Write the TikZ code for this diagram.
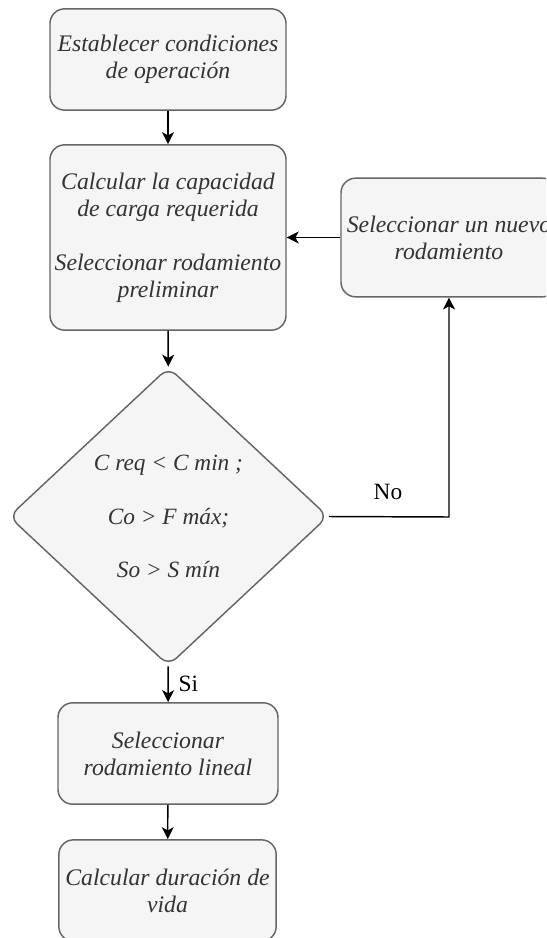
\documentclass[tikz,border=0pt]{standalone}
\usepackage{fontspec}
\setmainfont{Liberation Serif}
\usepackage{tikz}
\usetikzlibrary{arrows.meta,positioning,shapes.geometric}
\definecolor{boxfill}{RGB}{245,245,245}
\definecolor{boxline}{RGB}{102,102,102}
\definecolor{boxtext}{RGB}{51,51,51}

\begin{document}
\begin{tikzpicture}[x=0.75pt,y=-0.75pt,
    stepbox/.style={draw=boxline,fill=boxfill,line width=1.1pt,rounded corners=11pt,
      text=boxtext,align=center,inner sep=0pt,
      font=\fontsize{17.8}{20.3}\selectfont\itshape},
    decision/.style={diamond,draw=boxline,fill=boxfill,line width=1.1pt,rounded corners=8pt,
      text=boxtext,align=center,inner sep=0pt,
      font=\fontsize{17.5}{20.3}\selectfont\itshape},
    flow/.style={line width=1.1pt,-{Stealth[length=9pt,width=9pt,inset=2.5pt]}},
    tag/.style={font=\fontsize{17.5}{20}\selectfont}]
  \clip (0,0) rectangle (546,938);
  \useasboundingbox (0,0) rectangle (546,938);

  \node[stepbox,minimum width=177pt,minimum height=76pt] (cond) at (168,59.5)
    {Establecer condiciones\\de operación};
  \node[stepbox,minimum width=177pt,minimum height=139pt] (capac) at (168,237.5)
    {Calcular la capacidad\\de carga requerida\\[20pt]Seleccionar rodamiento\\preliminar};
  \node[stepbox,minimum width=162pt,minimum height=89pt] (nuevo) at (449,237.5)
    {Seleccionar un nuevo\\rodamiento};
  \node[decision,minimum width=239.5pt,minimum height=224pt] (check) at (168.5,516.5)
    {C req < C min ;\\[20pt]Co > F máx;\\[20pt]So > S mín};
  \node[stepbox,minimum width=165pt,minimum height=76pt] (lineal) at (168,753.5)
    {Seleccionar\\rodamiento lineal};
  \node[stepbox,minimum width=163pt,minimum height=76pt] (vida) at (167.5,890.5)
    {Calcular duración de\\vida};

  \draw[flow] (cond) -- (capac);
  \draw[flow] (capac) -- (check);
  \draw[flow] (check) -- node[tag,right=4pt] (si) {Si} (lineal);
  \draw[flow] (lineal) -- (vida);
  \draw[flow] (check.east) -- (449,517) coordinate (esq) -- (nuevo.south);
  \node[tag] (no) at (388,492) {No};
  \draw[flow] (nuevo) -- (capac);
\end{tikzpicture}
\end{document}
